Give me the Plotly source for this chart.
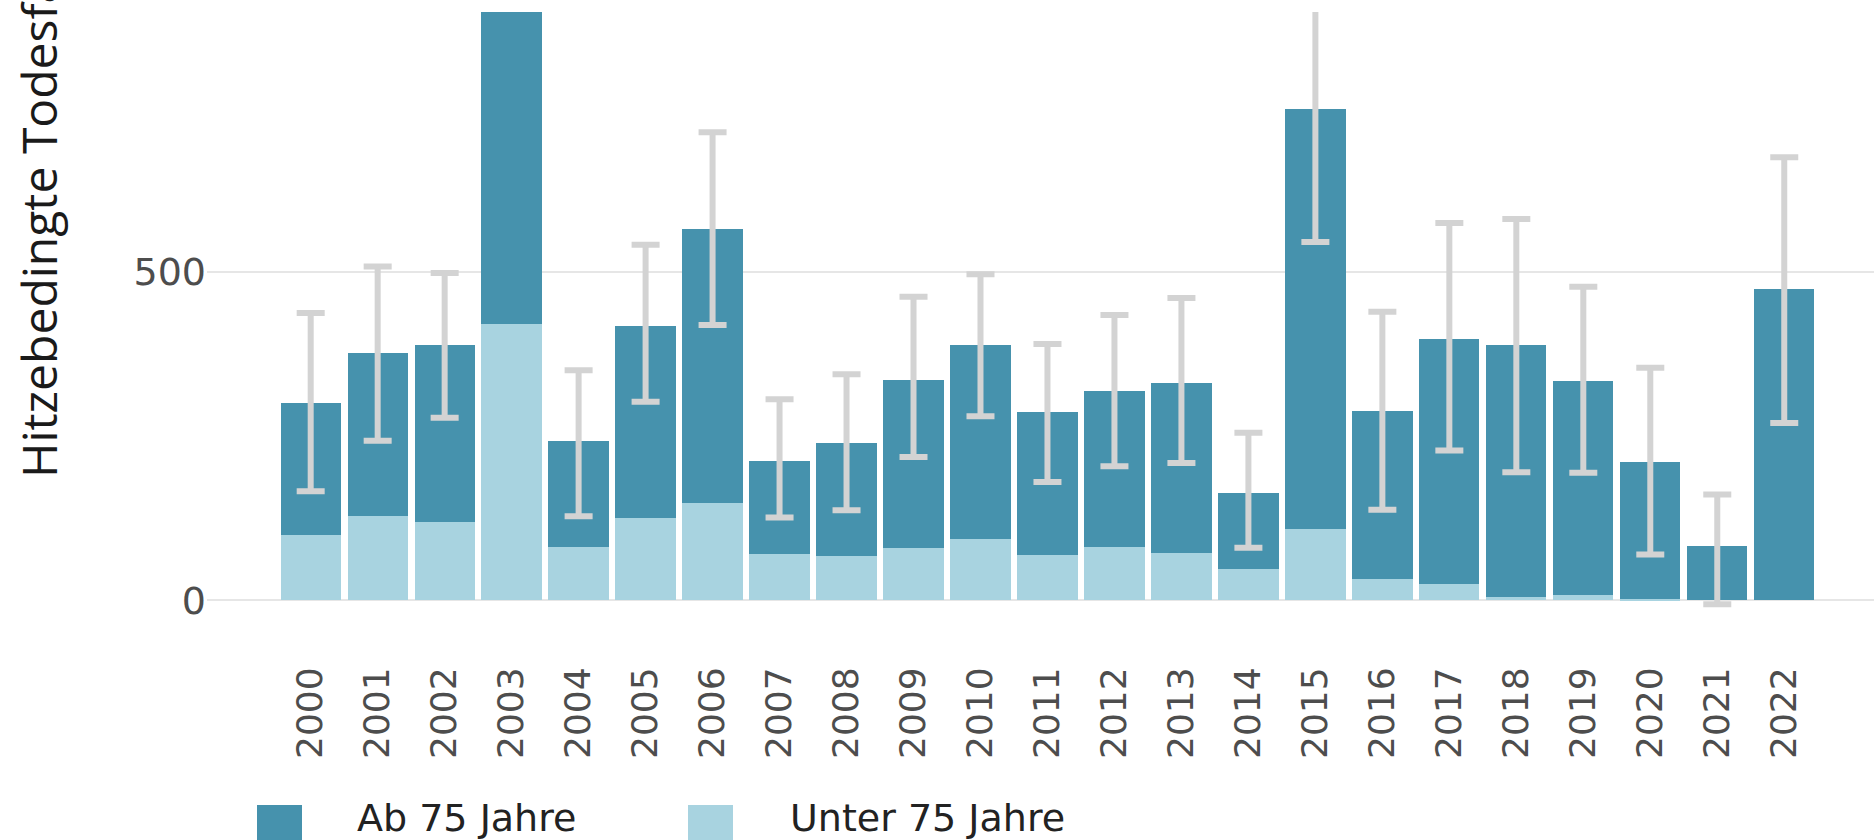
import plotly.graph_objects as go

# Heat-related deaths per year, split by age group, with uncertainty range of the total
years = [str(y) for y in range(2000, 2023)]
unter_75 = [99, 129, 119, 421, 82, 126, 148, 70, 68, 80, 94, 69, 82, 72, 48, 109, 33, 25, 5, 9, 2, 0, 0]
ab_75 = [202, 247, 269, 729, 160, 292, 417, 142, 172, 256, 295, 218, 237, 258, 115, 639, 255, 372, 383, 325, 209, 83, 473]
ci_low = [166, 243, 278, 930, 128, 302, 419, 126, 137, 218, 280, 180, 204, 209, 80, 545, 138, 228, 195, 194, 70, -6, 270]
ci_high = [437, 508, 498, 1400, 350, 541, 712, 306, 344, 462, 496, 390, 434, 460, 255, 1000, 439, 574, 580, 477, 354, 161, 674]

y_ticks = [0, 500]
y_title = "Hitzebedingte Todesfälle"
legend_labels = ["Ab 75 Jahre", "Unter 75 Jahre"]

DARK = "#4692AD"
LIGHT = "#A8D3E0"
ERR = "#D3D3D3"

W, H = 1874, 840
M_L, M_R, M_T, M_B = 207, 0, 12, 210
PW, PH = W - M_L - M_R, H - M_T - M_B


def px_x(px):
    return (px - M_L) / PW


def px_y(py):
    return (H - M_B - py) / PH


totals = [a + u for a, u in zip(ab_75, unter_75)]
err_plus = [h - t for h, t in zip(ci_high, totals)]
err_minus = [t - l for l, t in zip(ci_low, totals)]

fig = go.Figure()
fig.add_bar(x=years, y=unter_75, name=legend_labels[1], marker=dict(color=LIGHT, line=dict(width=0)),
            showlegend=False)
fig.add_bar(x=years, y=ab_75, name=legend_labels[0], marker=dict(color=DARK, line=dict(width=0)),
            showlegend=False)
fig.add_scatter(
    x=years, y=totals, mode="markers", marker=dict(opacity=0, size=1), showlegend=False,
    hoverinfo="skip",
    error_y=dict(type="data", symmetric=False, array=err_plus, arrayminus=err_minus,
                 color=ERR, thickness=6, width=14),
)

shapes = []
annotations = []
# hand-built legend with large swatches
legend_items = [
    (legend_labels[0], DARK, 257, 302, 355),
    (legend_labels[1], LIGHT, 688, 733, 788),
]
for label, color, sx0, sx1, tx in legend_items:
    shapes.append(dict(type="rect", xref="paper", yref="paper",
                       x0=px_x(sx0), x1=px_x(sx1), y0=px_y(805), y1=px_y(850),
                       fillcolor=color, line=dict(width=0), layer="above"))
    annotations.append(dict(text=label, xref="paper", yref="paper", x=px_x(tx), y=px_y(818),
                            xanchor="left", yanchor="middle", showarrow=False,
                            font=dict(family="DejaVu Sans", size=38, color="#222222")))

annotations.append(dict(text=y_title, xref="paper", yref="paper", x=px_x(38), y=px_y(480),
                        xanchor="center", yanchor="bottom", textangle=-90, showarrow=False,
                        font=dict(family="Open Sans", size=48, color="#1a1a1a")))

fig.update_layout(
    width=W, height=H,
    margin=dict(l=M_L, r=M_R, t=M_T, b=M_B, pad=0),
    paper_bgcolor="white", plot_bgcolor="white",
    barmode="stack", bargap=0.1,
    showlegend=False,
    shapes=shapes, annotations=annotations,
    xaxis=dict(
        type="category", range=[-1.548, 23.34], tickangle=-90,
        tickfont=dict(family="DejaVu Sans", size=36, color="#4d4d4d"),
        showgrid=False, zeroline=False, showline=False,
        ticks="outside", ticklen=22, tickcolor="rgba(0,0,0,0)",
    ),
    yaxis=dict(
        range=[-45, 895], tickvals=y_ticks,
        tickfont=dict(family="DejaVu Sans", size=38, color="#4d4d4d"),
        showgrid=True, gridcolor="#e6e6e6", gridwidth=2,
        zeroline=False, showline=False, ticks="",
    ),
)

fig.write_html("out.html")
